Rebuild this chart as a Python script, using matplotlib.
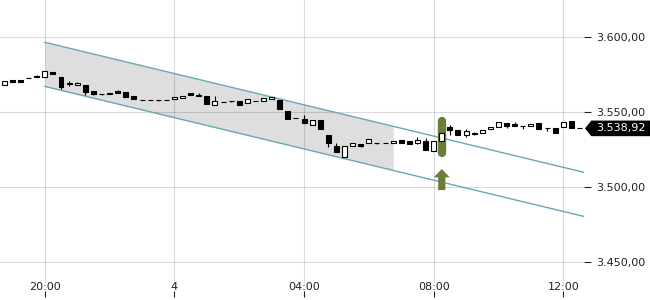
import matplotlib
matplotlib.use("Agg")
import matplotlib.pyplot as plt
import matplotlib.dates as mdates
import matplotlib.transforms as mtransforms
from matplotlib.patches import Polygon
from matplotlib.ticker import FixedLocator, FuncFormatter
from datetime import datetime, timedelta

# ---------------- data ----------------
start_time = datetime(2024, 3, 3, 18, 45)
interval_min = 15

opens = [3567.6, 3571.0, 3570.9, 3572.7, 3573.6, 3572.9, 3576.3, 3573.1, 3569.1, 3567.6,
         3567.6, 3563.8, 3562.1, 3562.7, 3563.6, 3563.1, 3560.5, 3557.7, 3557.7, 3557.7,
         3557.7, 3558.3, 3559.0, 3562.5, 3561.3, 3560.5, 3554.4, 3556.8, 3557.0, 3557.1,
         3555.6, 3557.4, 3557.1, 3558.3, 3557.8, 3550.5, 3546.0, 3545.1, 3540.9, 3544.5,
         3534.5, 3527.1, 3519.6, 3527.1, 3528.3, 3528.9, 3529.4, 3529.5, 3528.9, 3531.3,
         3530.2, 3529.1, 3530.6, 3523.6, 3530.6, 3539.8, 3538.0, 3534.7, 3536.0, 3536.0,
         3538.3, 3539.8, 3542.7, 3541.6, 3540.5, 3540.3, 3542.3, 3539.2, 3539.3, 3539.8,
         3543.8, 3539.0]
closes = [3570.3, 3569.6, 3569.7, 3572.6, 3573.5, 3576.9, 3575.4, 3566.4, 3568.3, 3569.1,
          3563.1, 3561.6, 3562.0, 3561.8, 3562.7, 3560.0, 3558.3, 3557.6, 3557.6, 3557.6,
          3557.6, 3559.8, 3560.5, 3560.9, 3560.3, 3555.1, 3557.0, 3556.7, 3556.9, 3554.3,
          3558.3, 3557.3, 3559.3, 3559.8, 3551.6, 3544.9, 3545.9, 3542.3, 3544.3, 3538.3,
          3529.3, 3522.9, 3527.1, 3528.9, 3527.1, 3531.6, 3529.3, 3529.4, 3530.5, 3529.3,
          3528.5, 3531.2, 3524.8, 3530.5, 3535.8, 3537.6, 3534.7, 3537.3, 3535.3, 3537.6,
          3539.8, 3543.1, 3540.5, 3540.5, 3540.3, 3542.0, 3538.3, 3539.1, 3535.8, 3543.1,
          3539.1, 3538.92]
highs = [3570.3, 3571.0, 3570.9, 3572.7, 3574.6, 3576.9, 3576.3, 3573.1, 3570.3, 3570.0,
         3567.6, 3563.8, 3562.1, 3562.7, 3564.3, 3563.1, 3560.5, 3557.7, 3557.7, 3557.7,
         3557.7, 3559.8, 3560.5, 3562.5, 3562.3, 3560.5, 3560.2, 3556.8, 3557.0, 3557.1,
         3558.3, 3557.4, 3559.3, 3559.8, 3557.8, 3550.5, 3546.0, 3547.8, 3544.3, 3544.5,
         3534.5, 3529.3, 3527.1, 3529.3, 3528.3, 3531.6, 3529.4, 3529.5, 3530.5, 3531.3,
         3530.2, 3533.0, 3532.6, 3530.5, 3535.8, 3541.3, 3538.0, 3538.7, 3536.7, 3537.6,
         3539.8, 3543.1, 3542.7, 3543.1, 3540.5, 3542.0, 3542.3, 3539.2, 3539.3, 3543.1,
         3543.8, 3539.0]
lows = [3567.6, 3569.6, 3569.7, 3572.6, 3573.5, 3572.9, 3575.4, 3565.3, 3567.1, 3567.6,
        3561.0, 3561.0, 3561.0, 3561.8, 3562.7, 3560.0, 3558.3, 3557.6, 3557.6, 3557.0,
        3557.6, 3558.3, 3559.0, 3560.9, 3560.3, 3555.1, 3554.4, 3556.7, 3556.3, 3554.3,
        3555.6, 3557.3, 3557.1, 3558.3, 3551.6, 3544.9, 3545.9, 3542.3, 3540.9, 3538.3,
        3526.7, 3522.9, 3519.6, 3527.1, 3526.3, 3528.9, 3528.8, 3529.4, 3528.9, 3529.3,
        3528.5, 3528.3, 3524.8, 3523.6, 3530.6, 3534.7, 3534.7, 3533.1, 3534.6, 3536.0,
        3538.3, 3539.8, 3539.1, 3540.5, 3538.3, 3540.3, 3538.3, 3536.9, 3535.8, 3539.8,
        3539.1, 3538.92]
last_price = 3538.92

# trend channel
channel_start = datetime(2024, 3, 3, 20, 0)
channel_upper_start = 3596.3
channel_lower_start = 3566.9
channel_slope_per_hour = -5.21
shade_end = datetime(2024, 3, 4, 6, 45)

# signal marker
signal_time = datetime(2024, 3, 4, 8, 15)
signal_bar = [3543.7, 3522.6]
signal_arrow = [3511.8, 3506.3, 3497.8]   # tip, head base, tail

x_ticks = [datetime(2024, 3, 3, 20, 0), datetime(2024, 3, 4, 0, 0),
           datetime(2024, 3, 4, 4, 0), datetime(2024, 3, 4, 8, 0),
           datetime(2024, 3, 4, 12, 0)]
y_ticks = [3450, 3500, 3550, 3600]

x_start = datetime(2024, 3, 3, 18, 37, 2)
x_end = datetime(2024, 3, 4, 12, 38, 24)
y_min, y_max = 3426.5, 3624.5

# ---------------- figure ----------------
fig = plt.figure(figsize=(6.5, 3.0), dpi=100)
ax = fig.add_axes([0, 0.01, 584 / 650, 0.99])
xmin = mdates.date2num(x_start)
xmax = mdates.date2num(x_end)
ax.set_xlim(xmin, xmax)
ax.set_ylim(y_min, y_max)
for s in ax.spines.values():
    s.set_visible(False)

grid_alpha = 0.14

# channel
cs = mdates.date2num(channel_start)
se = mdates.date2num(shade_end)
h_end = (xmax - cs) * 24
h_se = (se - cs) * 24
u0, l0 = channel_upper_start, channel_lower_start
ax.fill_between([cs, se], [u0, u0 + channel_slope_per_hour * h_se],
                [l0, l0 + channel_slope_per_hour * h_se],
                color="#dedede", lw=0, zorder=0.5)
line_col = "#66a9b3"
ax.plot([cs, xmax], [u0, u0 + channel_slope_per_hour * h_end], color=line_col, lw=1.0, zorder=2)
ax.plot([cs, xmax], [l0, l0 + channel_slope_per_hour * h_end], color=line_col, lw=1.0, zorder=2)

# vertical grid (stops above the time labels)
for t in x_ticks:
    ax.axvline(mdates.date2num(t), ymin=(297 - 283) / 297, ymax=1, color="black",
               alpha=grid_alpha, lw=0.8, zorder=1.5)

# signal bar + arrow
st = mdates.date2num(signal_time)
green = "#6a7d3a"
ax.plot([st, st], signal_bar, color=green, lw=6.0, solid_capstyle="round", zorder=2.5)
hw = 8 / 32.44 / 24     # half width of arrow head (days)
sw = 3.6 / 32.44 / 24   # half width of shaft
ax.add_patch(Polygon([(st, signal_arrow[0]), (st + hw, signal_arrow[1]), (st + sw, signal_arrow[1]),
                      (st + sw, signal_arrow[2]), (st - sw, signal_arrow[2]), (st - sw, signal_arrow[1]),
                      (st - hw, signal_arrow[1])], closed=True, fc=green, ec="none", zorder=2.5))

# candles
times = [mdates.date2num(start_time + timedelta(minutes=interval_min * i)) for i in range(len(opens))]
width = 9.2 / 1440
faces = ["white" if c > o else "black" for o, c in zip(opens, closes)]
ax.vlines(times, lows, highs, color="black", lw=0.8, zorder=2.9)
ax.bar(times, [c - o for o, c in zip(opens, closes)], bottom=opens, width=width,
       color=faces, edgecolor="black", linewidth=0.8, zorder=3)

# ticks
ax.xaxis.set_major_locator(FixedLocator([mdates.date2num(t) for t in x_ticks]))


def xfmt(v, pos):
    d = mdates.num2date(v)
    if d.hour == 0 and d.minute == 0:
        return str(d.day)
    return d.strftime("%H:%M")


ax.xaxis.set_major_formatter(FuncFormatter(xfmt))
ax.tick_params(axis="x", direction="in", length=4, width=0.8, pad=-11, labelsize=8,
               color="#222222", labelcolor="#222222")

ax.yaxis.tick_right()
ax.yaxis.set_major_locator(FixedLocator(y_ticks))


def yfmt(v, pos):
    s = f"{v:,.2f}"
    return s.replace(",", "X").replace(".", ",").replace("X", ".")


ax.yaxis.set_major_formatter(FuncFormatter(yfmt))
ax.tick_params(axis="y", direction="out", length=5, width=0.8, pad=3.5, labelsize=8,
               color="#222222", labelcolor="#222222",
               grid_color="black", grid_alpha=grid_alpha, grid_linewidth=0.8)
ax.yaxis.grid(True)
ax.xaxis.grid(False)

# last price tag
blend = mtransforms.blended_transform_factory(ax.transAxes, ax.transData)
hh = 5.2
tag = Polygon([(1.0017, last_price), (1.0125, last_price + hh), (1.12, last_price + hh),
               (1.12, last_price - hh), (1.0125, last_price - hh)], closed=True,
              transform=blend, fc="black", ec="none", clip_on=False, zorder=5)
ax.add_patch(tag)
ax.text(596 / 584, last_price, yfmt(last_price, None), transform=blend, color="white",
        fontsize=8, va="center", ha="left", zorder=6, clip_on=False)

fig.savefig("out.png", dpi=100)
